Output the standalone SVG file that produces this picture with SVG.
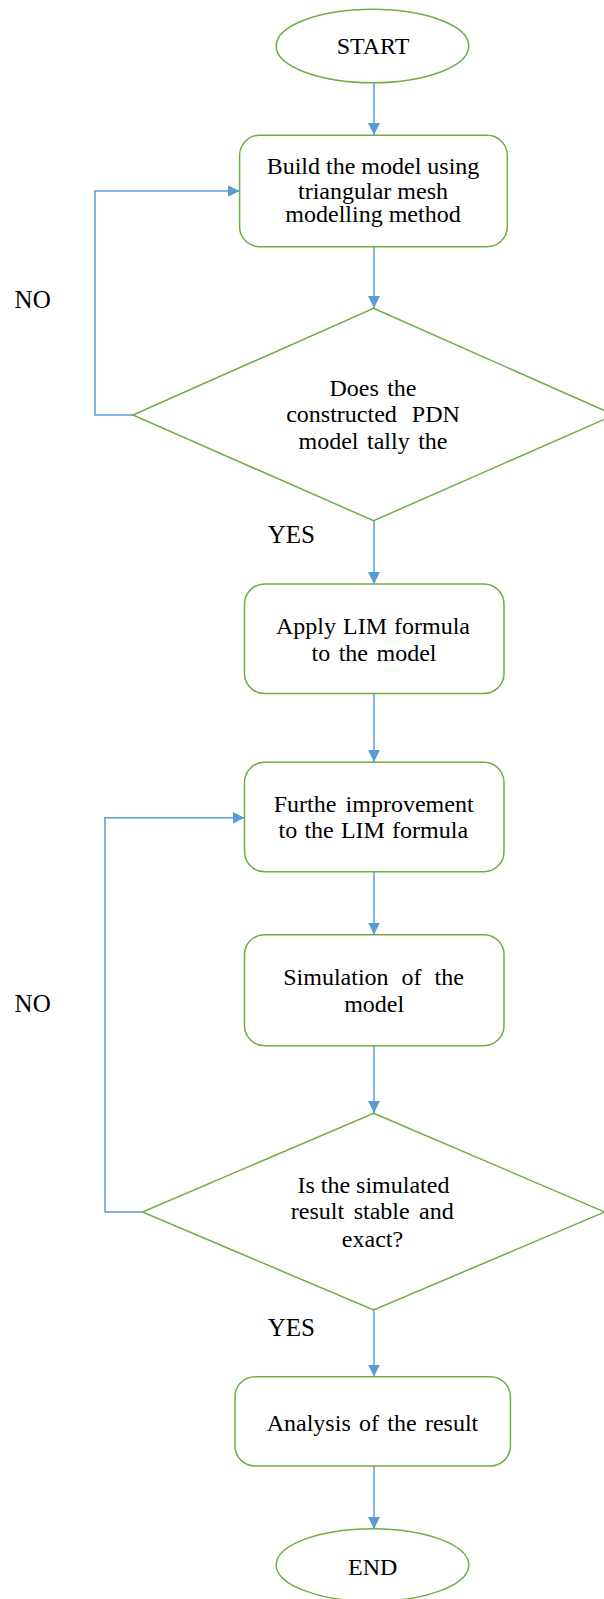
<svg xmlns="http://www.w3.org/2000/svg" width="604" height="1599" viewBox="0 0 604 1599">
<style>
.n{fill:#fff;stroke:#70AD47;stroke-width:1.5}
.c{fill:none;stroke:#5B9BD5;stroke-width:1.5}
text{font-family:"Liberation Serif","Times New Roman",serif;font-size:24px;fill:#000;text-anchor:middle}
.l{text-anchor:start;font-size:25px}
</style>
<defs>
<marker id="ah" markerUnits="userSpaceOnUse" markerWidth="12" markerHeight="12" refX="12" refY="6" orient="auto">
<path d="M0,0 L12,6 L0,12 z" fill="#5B9BD5"/>
</marker>
</defs>
<rect width="604" height="1599" fill="#fff"/>
<g id="connectors">
<line class="c" x1="374" y1="83" x2="374" y2="135" marker-end="url(#ah)"/>
<line class="c" x1="374" y1="247" x2="374" y2="308" marker-end="url(#ah)"/>
<polyline class="c" points="133,415 95,415 95,191 239.5,191" marker-end="url(#ah)"/>
<line class="c" x1="374" y1="521" x2="374" y2="584" marker-end="url(#ah)"/>
<line class="c" x1="374" y1="693.5" x2="374" y2="762" marker-end="url(#ah)"/>
<polyline class="c" points="142.5,1212 105,1212 105,817.7 244.5,817.7" marker-end="url(#ah)"/>
<line class="c" x1="374" y1="872" x2="374" y2="934.5" marker-end="url(#ah)"/>
<line class="c" x1="374" y1="1046" x2="374" y2="1113" marker-end="url(#ah)"/>
<line class="c" x1="374" y1="1310" x2="374" y2="1376.5" marker-end="url(#ah)"/>
<line class="c" x1="374" y1="1466" x2="374" y2="1529" marker-end="url(#ah)"/>
</g>
<g id="start">
<ellipse class="n" cx="372.5" cy="46" rx="96.3" ry="36.7"/>
<text x="373" y="54">START</text>
</g>
<g id="build">
<rect class="n" x="239.6" y="135.3" width="267.7" height="111.4" rx="20" ry="20"/>
<text x="373" y="174">Build the model using</text>
<text x="373" y="198.5">triangular mesh</text>
<text x="373" y="222">modelling method</text>
</g>
<g id="decision1">
<polygon class="n" points="373.6,308.3 614.3,415 373.6,520.7 132.9,415"/>
<text x="373" y="396" word-spacing="2.4">Does the</text>
<text x="373" y="422" word-spacing="9">constructed PDN</text>
<text x="373" y="448.5" word-spacing="2.5">model tally the</text>
</g>
<g id="label-no1"><text class="l" x="14.6" y="308">NO</text></g>
<g id="label-yes1"><text class="l" x="267.7" y="542.5">YES</text></g>
<g id="apply">
<rect class="n" x="244.5" y="584" width="259.5" height="109.5" rx="20" ry="20"/>
<text x="373" y="634.3" word-spacing="1">Apply LIM formula</text>
<text x="374" y="660.5" word-spacing="2.5">to the model</text>
</g>
<g id="further">
<rect class="n" x="244.5" y="762.3" width="259.5" height="109.4" rx="20" ry="20"/>
<text x="373.6" y="811.7" word-spacing="3.3">Furthe improvement</text>
<text x="373.3" y="837.7" word-spacing="1.2">to the LIM formula</text>
</g>
<g id="simulation">
<rect class="n" x="244.5" y="934.7" width="259.5" height="111" rx="20" ry="20"/>
<text x="373.6" y="985" word-spacing="7">Simulation of the</text>
<text x="374.2" y="1011.7">model</text>
</g>
<g id="label-no2"><text class="l" x="14.6" y="1011.7">NO</text></g>
<g id="decision2">
<polygon class="n" points="373.6,1113.3 604.7,1212 373.6,1310 142.5,1212"/>
<text x="373.4" y="1193.3">Is the simulated</text>
<text x="372.3" y="1219.3" word-spacing="3.5">result stable and</text>
<text x="372.5" y="1246.5">exact?</text>
</g>
<g id="label-yes2"><text class="l" x="267.7" y="1336">YES</text></g>
<g id="analysis">
<rect class="n" x="235" y="1376.7" width="275.4" height="89.3" rx="20" ry="20"/>
<text x="372.5" y="1431" word-spacing="2.3">Analysis of the result</text>
</g>
<g id="end">
<ellipse class="n" cx="372.5" cy="1565" rx="96.3" ry="36.3"/>
<text x="372.7" y="1575">END</text>
</g>
</svg>
